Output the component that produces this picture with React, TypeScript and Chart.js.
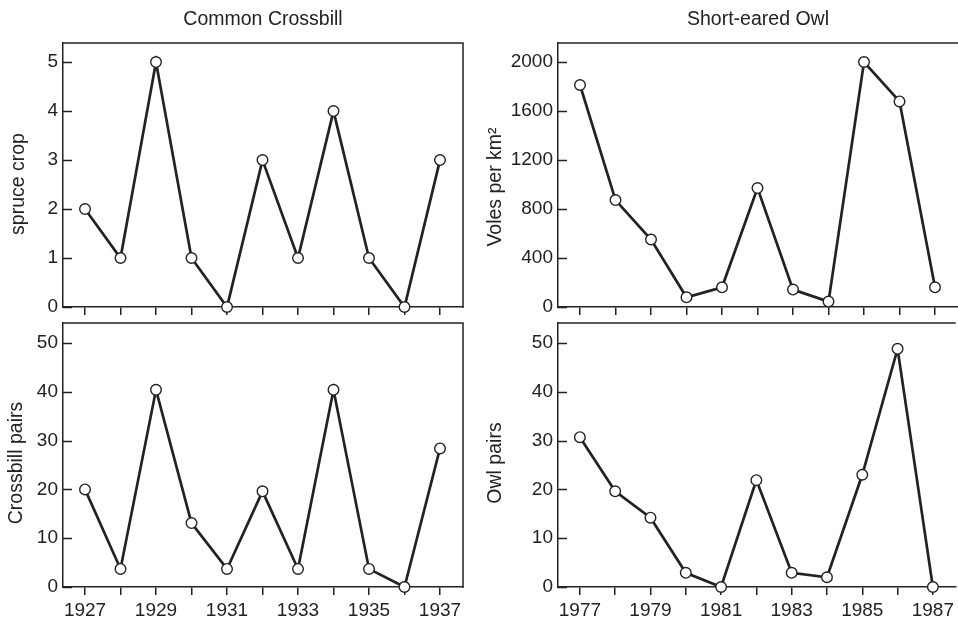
import React, { useEffect, useRef } from 'react';
import { Chart, registerables } from 'chart.js';

Chart.register(...registerables);

// ---------- data ----------
const crossbillYears = [1927, 1928, 1929, 1930, 1931, 1932, 1933, 1934, 1935, 1936, 1937];
const spruceCrop = [2, 1, 5, 1, 0, 3, 1, 4, 1, 0, 3];
const crossbillPairs = [20, 3.7, 40.4, 13.1, 3.7, 19.6, 3.7, 40.4, 3.7, 0, 28.4];

const owlYears = [1977, 1978, 1979, 1980, 1981, 1982, 1983, 1984, 1985, 1986, 1987];
const volesPerKm2 = [1812, 873, 551, 79, 161, 971, 142, 44, 2000, 1678, 161];
const owlPairs = [30.7, 19.6, 14.2, 2.9, 0, 21.9, 2.9, 2.0, 23.0, 48.8, 0];

const crossbillTickLabels = ['1927', '1929', '1931', '1933', '1935', '1937'];
const owlTickLabels = ['1977', '1979', '1981', '1983', '1985', '1987'];

const spruceTicks = [0, 1, 2, 3, 4, 5];
const volesTicks = [0, 400, 800, 1200, 1600, 2000];
const pairsTicks = [0, 10, 20, 30, 40, 50];

const panelTitles = ['Common Crossbill', 'Short-eared Owl'];
const yTitles = ['spruce crop', 'Voles per km\u00B2', 'Crossbill pairs', 'Owl pairs'];

// ---------- styling / layout ----------
const W = 958;
const H = 622;
const INK = '#222222';
const FONT = "'Liberation Sans', Arial, Helvetica, sans-serif";
const TICK_SIZE = 19;
const TITLE_SIZE = 19.5;
const X_AXIS_H = 40;
const Y_TICK_IN = 9;

type Panel = {
  area: { left: number; top: number; right: number; bottom: number };
  padLeft: number;
  xMin: number;
  xMax: number;
  yMax: number;
  yTicks: number[];
  years: number[];
  values: number[];
  xLabels: string[];
  title: string | null;
  yTitle: string;
  yTitlePos: [number, number];
  rightBorder: boolean;
};

const panels: Panel[] = [
  {
    area: { left: 63, top: 43, right: 463, bottom: 307 },
    padLeft: 0,
    xMin: 1926.38, xMax: 1937.648,
    yMax: 5.39, yTicks: spruceTicks,
    years: crossbillYears, values: spruceCrop,
    xLabels: [],
    title: panelTitles[0],
    yTitle: yTitles[0], yTitlePos: [19, 184],
    rightBorder: true,
  },
  {
    area: { left: 558, top: 43, right: 958, bottom: 307 },
    padLeft: 479,
    xMin: 1976.38, xMax: 1987.648,
    yMax: 2155, yTicks: volesTicks,
    years: owlYears, values: volesPerKm2,
    xLabels: [],
    title: panelTitles[1],
    yTitle: yTitles[1], yTitlePos: [496, 187],
    rightBorder: false,
  },
  {
    area: { left: 63, top: 323, right: 463, bottom: 587 },
    padLeft: 0,
    xMin: 1926.38, xMax: 1937.648,
    yMax: 54.1, yTicks: pairsTicks,
    years: crossbillYears, values: crossbillPairs,
    xLabels: crossbillTickLabels,
    title: null,
    yTitle: yTitles[2], yTitlePos: [17, 463],
    rightBorder: true,
  },
  {
    area: { left: 558, top: 323, right: 958, bottom: 587 },
    padLeft: 479,
    xMin: 1976.38, xMax: 1987.648,
    yMax: 54.1, yTicks: pairsTicks,
    years: owlYears, values: owlPairs,
    xLabels: owlTickLabels,
    title: null,
    yTitle: yTitles[3], yTitlePos: [496, 463],
    rightBorder: false,
  },
];

const framePlugin = {
  id: 'frame',
  beforeDatasetsDraw(chart: any, _args: any, opts: any) {
    const { ctx, chartArea } = chart;
    const yScale = chart.scales.y;
    ctx.save();
    ctx.strokeStyle = INK;
    ctx.lineWidth = 1.5;
    ctx.beginPath();
    ctx.moveTo(chartArea.left - 0.75, chartArea.top);
    ctx.lineTo(chartArea.right, chartArea.top);
    if (opts.rightBorder) {
      ctx.lineTo(chartArea.right, chartArea.bottom + 0.75);
    }
    ctx.stroke();
    // inward y ticks
    ctx.beginPath();
    for (const t of yScale.ticks) {
      const py = Math.round(yScale.getPixelForValue(t.value)) + 0.5;
      ctx.moveTo(chartArea.left, py);
      ctx.lineTo(chartArea.left + Y_TICK_IN, py);
    }
    ctx.stroke();
    ctx.restore();
  },
  afterDraw(chart: any, _args: any, opts: any) {
    const { ctx } = chart;
    ctx.save();
    ctx.fillStyle = INK;
    ctx.font = `${TITLE_SIZE}px ${FONT}`;
    ctx.textAlign = 'center';
    ctx.textBaseline = 'middle';
    ctx.translate(opts.yTitlePos[0], opts.yTitlePos[1]);
    ctx.rotate(-Math.PI / 2);
    ctx.fillText(opts.yTitle, 0, 0);
    ctx.restore();
  },
};

function PanelChart({ panel }: { panel: Panel }) {
  const ref = useRef<HTMLCanvasElement | null>(null);

  useEffect(() => {
    if (!ref.current) return;
    const p = panel;
    const titleLine = TITLE_SIZE * 1.2;
    const chart = new Chart(ref.current, {
      type: 'line',
      data: {
        datasets: [
          {
            data: p.years.map((yr, i) => ({ x: yr, y: p.values[i] })),
            borderColor: INK,
            borderWidth: 2.7,
            pointRadius: 5.3,
            pointBackgroundColor: '#ffffff',
            pointBorderColor: INK,
            pointBorderWidth: 1.4,
            tension: 0,
            clip: false as any,
          },
        ],
      },
      options: {
        animation: false,
        responsive: false,
        maintainAspectRatio: false,
        devicePixelRatio: 1,
        events: [],
        layout: {
          autoPadding: false,
          padding: {
            left: p.padLeft,
            right: W - p.area.right,
            top: p.title ? 0 : p.area.top,
            bottom: H - p.area.bottom - X_AXIS_H,
          },
        },
        plugins: {
          legend: { display: false },
          tooltip: { enabled: false },
          title: p.title
            ? {
                display: true,
                text: p.title,
                fullSize: false,
                color: INK,
                font: { family: FONT, size: TITLE_SIZE, weight: 'normal' },
                padding: { top: 8, bottom: p.area.top - 8 - titleLine },
              }
            : { display: false },
          frame: { rightBorder: p.rightBorder, yTitle: p.yTitle, yTitlePos: p.yTitlePos },
        } as any,
        scales: {
          x: {
            type: 'linear',
            min: p.xMin,
            max: p.xMax,
            afterFit: (s: any) => {
              s.height = X_AXIS_H;
            },
            afterBuildTicks: (s: any) => {
              s.ticks = p.years.map((yr) => ({ value: yr }));
            },
            border: { display: true, color: INK, width: 1.5 },
            grid: {
              drawOnChartArea: false,
              drawTicks: true,
              tickLength: 8,
              color: INK,
              lineWidth: 1.5,
            },
            ticks: {
              autoSkip: false,
              maxRotation: 0,
              minRotation: 0,
              padding: 4,
              color: INK,
              font: { family: FONT, size: TICK_SIZE },
              callback: (v: any) => (p.xLabels.includes(String(v)) ? String(v) : ''),
            },
          },
          y: {
            type: 'linear',
            min: 0,
            max: p.yMax,
            afterFit: (s: any) => {
              s.width = p.area.left - p.padLeft;
            },
            afterBuildTicks: (s: any) => {
              s.ticks = p.yTicks.map((v) => ({ value: v }));
            },
            border: { display: true, color: INK, width: 1.5 },
            grid: {
              drawOnChartArea: false,
              drawTicks: false,
            },
            ticks: {
              autoSkip: false,
              padding: 5,
              color: INK,
              font: { family: FONT, size: TICK_SIZE },
              callback: (v: any) => String(v),
            },
          },
        } as any,
      },
      plugins: [framePlugin],
    });
    return () => chart.destroy();
  }, [panel]);

  return (
    <canvas
      ref={ref}
      width={W}
      height={H}
      style={{ position: 'absolute', left: 0, top: 0, width: W, height: H }}
    />
  );
}

export default function App() {
  return (
    <div
      style={{
        position: 'absolute',
        left: 0,
        top: 0,
        width: W,
        height: H,
        background: '#ffffff',
        overflow: 'hidden',
      }}
    >
      {panels.map((p, i) => (
        <PanelChart key={i} panel={p} />
      ))}
    </div>
  );
}
